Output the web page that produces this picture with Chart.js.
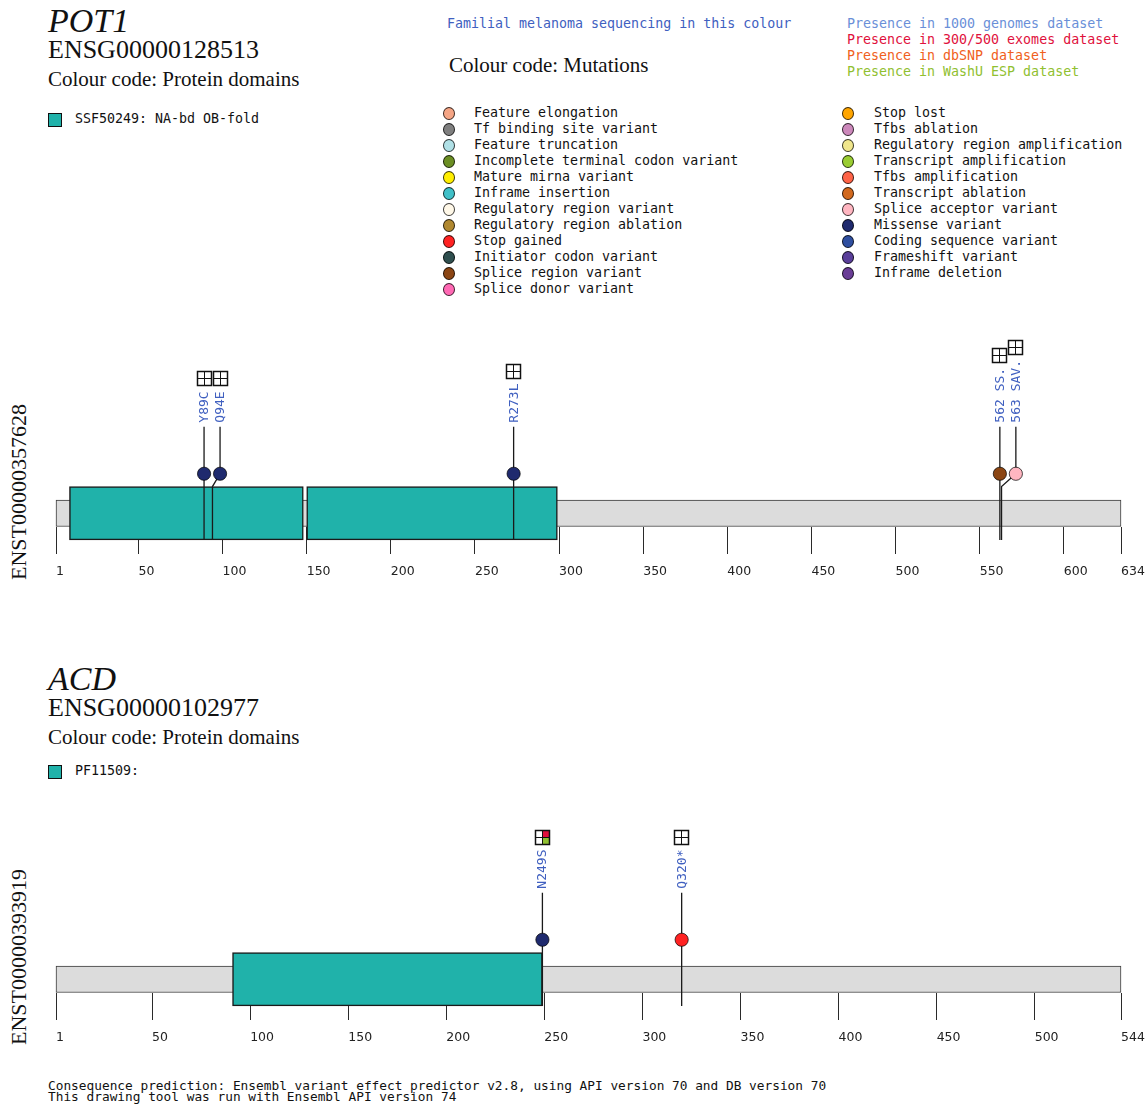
<!DOCTYPE html>
<html>
<head>
<meta charset="utf-8">
<title>POT1 / ACD variants</title>
<script src="https://cdn.jsdelivr.net/npm/chart.js@4.4.1/dist/chart.umd.min.js"></script>
<style>
  body { margin: 0; background: #fff; }
  #page { position: relative; width: 1147px; height: 1117px; overflow: hidden; }
  .abs { position: absolute; white-space: nowrap; }
  .serif { font-family: 'Liberation Serif', 'Times New Roman', serif; color: #111; line-height: 1; }
  .mono { font-family: 'DejaVu Sans Mono', monospace; font-size: 13.3px; line-height: 16px; color: #111; }
  .dot { position: absolute; width: 12px; height: 13px; border-radius: 50%; border: 1px solid rgba(0,0,0,0.75); box-sizing: border-box; }
  .sq { position: absolute; width: 14px; height: 14px; background: #20b2aa; border: 1.5px solid #111; box-sizing: border-box; }
  canvas { position: absolute; left: 0; }
</style>
</head>
<body>
<div id="page"></div>
<script>
// genes
const geneSymbols = ['POT1', 'ACD'];
const geneIds = ['ENSG00000128513', 'ENSG00000102977'];
const transcriptIds = ['ENST00000357628', 'ENST00000393919'];
const proteinLengths = [634, 544];
const domainNames = ['SSF50249: NA-bd OB-fold', 'PF11509:'];

const pot1Domains = [[9, 148], [150, 299]];
const acdDomains = [[91, 249]];

const pot1Ticks = [1, 50, 100, 150, 200, 250, 300, 350, 400, 450, 500, 550, 600, 634];
const acdTicks = [1, 50, 100, 150, 200, 250, 300, 350, 400, 450, 500, 544];

// variants: position, label, consequence, presence [1000G, 300/500 exomes, dbSNP, WashU ESP]
const pot1Positions = [89, 94, 273, 562, 563];
const pot1Labels = ['Y89C', 'Q94E', 'R273L', '562 SS.', '563 SAV.'];
const pot1Consequences = ['Missense variant', 'Missense variant', 'Missense variant', 'Splice region variant', 'Splice acceptor variant'];
const pot1Presence = [[0, 0, 0, 0], [0, 0, 0, 0], [0, 0, 0, 0], [0, 0, 0, 0], [0, 0, 0, 0]];

const acdPositions = [249, 320];
const acdLabels = ['N249S', 'Q320*'];
const acdConsequences = ['Missense variant', 'Stop gained'];
const acdPresence = [[0, 1, 0, 1], [0, 0, 0, 0]];

// colour code: mutations
const consequenceNames = [
  'Feature elongation', 'Tf binding site variant', 'Feature truncation', 'Incomplete terminal codon variant',
  'Mature mirna variant', 'Inframe insertion', 'Regulatory region variant', 'Regulatory region ablation',
  'Stop gained', 'Initiator codon variant', 'Splice region variant', 'Splice donor variant',
  'Stop lost', 'Tfbs ablation', 'Regulatory region amplification', 'Transcript amplification',
  'Tfbs amplification', 'Transcript ablation', 'Splice acceptor variant', 'Missense variant',
  'Coding sequence variant', 'Frameshift variant', 'Inframe deletion'
];
const consequenceColours = [
  '#f5a585', '#7f7f7f', '#b0e0e6', '#6b8e23',
  '#ffee00', '#40c0c8', '#fff8e8', '#b08830',
  '#ff2222', '#2f4f4f', '#8b4513', '#ff69b4',
  '#ffa500', '#cc88bb', '#f0e68c', '#9acd32',
  '#ff6347', '#d2691e', '#ffb6c1', '#1f2a6e',
  '#2f4fa0', '#5a3f9a', '#6a3d96'
];

const datasetNames = ['Presence in 1000 genomes dataset', 'Presence in 300/500 exomes dataset', 'Presence in dbSNP dataset', 'Presence in WashU ESP dataset'];
const datasetColours = ['#6a8fd8', '#e0103c', '#f06020', '#90c030'];

const labelBlue = '#4060c0';
const footerLines = [
  'Consequence prediction: Ensembl variant effect predictor v2.8, using API version 70 and DB version 70',
  'This drawing tool was run with Ensembl API version 74'
];

const page = document.getElementById('page');

function addText(cls, text, left, top, style) {
  const d = document.createElement('div');
  d.className = 'abs ' + cls;
  d.textContent = text;
  d.style.left = left + 'px';
  d.style.top = top + 'px';
  Object.assign(d.style, style || {});
  page.appendChild(d);
  return d;
}

// gene headers
const headerTops = [0, 658];
const legendTops = [0, 652];
geneSymbols.forEach((sym, g) => {
  const t = headerTops[g];
  addText('serif', sym, 48, t + 4, { fontSize: '34px', fontStyle: 'italic' });
  addText('serif', geneIds[g], 48, t + 36.5, { fontSize: '26px' });
  addText('serif', 'Colour code: Protein domains', 48, t + 69, { fontSize: '21px' });
  const sq = document.createElement('div');
  sq.className = 'sq';
  sq.style.left = '48px';
  sq.style.top = (legendTops[g] + 113) + 'px';
  page.appendChild(sq);
  addText('mono', domainNames[g], 75, legendTops[g] + 111);
});

// mutation colour code
addText('mono', 'Familial melanoma sequencing in this colour', 447, 16, { color: labelBlue });
addText('serif', 'Colour code: Mutations', 449, 54.5, { fontSize: '21px' });
datasetNames.forEach((n, i) => addText('mono', n, 847, 16 + 16 * i, { color: datasetColours[i] }));
consequenceNames.forEach((n, i) => {
  const col = i < 12 ? 0 : 1;
  const row = i % 12;
  const cx = col ? 848 : 449;
  const cy = 113 + 16 * row;
  const d = document.createElement('div');
  d.className = 'dot';
  d.style.left = (cx - 6) + 'px';
  d.style.top = (cy - 6.5) + 'px';
  d.style.background = consequenceColours[i];
  page.appendChild(d);
  addText('mono', n, col ? 874 : 474, cy - 8);
});

// footer
footerLines.forEach((l, i) => addText('mono', l, 48, 1080 + 11 * i, { fontSize: '12.8px', lineHeight: '11px' }));

// transcript labels (rotated)
const transcriptCentres = [491.5, 957];
transcriptIds.forEach((id, g) => {
  addText('serif', id, 19, transcriptCentres[g], { fontSize: '22px', transform: 'translate(-50%,-50%) rotate(-90deg)' });
});

// track geometry in y-scale units (1 unit = 1 px), 0 = protein centre line
const BAR_HALF = 13.25;
const DOMAIN_HALF = 26.7;
const MARKER_Y = 39.5;
const STEM_TOP = 86.6;
const MIN_GAP = 16;

function colourOf(cons) {
  return consequenceColours[consequenceNames.indexOf(cons)];
}

function drawIcon(ctx, left, top, size, presence) {
  const h = size / 2;
  presence.forEach((p, k) => {
    if (!p) return;
    ctx.fillStyle = datasetColours[k];
    ctx.fillRect(left + (k % 2) * h, top + Math.floor(k / 2) * h, h, h);
  });
  ctx.strokeStyle = '#111';
  ctx.lineWidth = 1.5;
  ctx.strokeRect(left, top, size, size);
  ctx.lineWidth = 1;
  ctx.beginPath();
  ctx.moveTo(left + h, top); ctx.lineTo(left + h, top + size);
  ctx.moveTo(left, top + h); ctx.lineTo(left + size, top + h);
  ctx.stroke();
}

const lollipops = {
  id: 'lollipops',
  afterDatasetsDraw(chart, args, opts) {
    const { ctx, scales: { x, y } } = chart;
    const v = opts.variants;
    let prev = -Infinity;
    v.positions.forEach((pos, i) => {
      const px = x.getPixelForValue(pos);
      const mx = Math.max(px, prev + MIN_GAP);
      prev = mx;
      const yBottom = y.getPixelForValue(-DOMAIN_HALF);
      const yKnee = y.getPixelForValue(DOMAIN_HALF);
      const yMarker = y.getPixelForValue(MARKER_Y);
      const yTop = y.getPixelForValue(STEM_TOP);

      ctx.save();
      ctx.strokeStyle = '#1a1a1a';
      ctx.lineWidth = 1.3;
      ctx.beginPath();
      ctx.moveTo(px, yBottom);
      if (mx !== px) {
        ctx.lineTo(px, yKnee);
        ctx.lineTo(mx, yMarker);
      } else {
        ctx.lineTo(px, yMarker);
      }
      ctx.moveTo(mx, yMarker);
      ctx.lineTo(mx, yTop);
      ctx.stroke();

      ctx.beginPath();
      ctx.arc(mx, yMarker, 6.6, 0, Math.PI * 2);
      ctx.fillStyle = colourOf(v.consequences[i]);
      ctx.fill();
      ctx.strokeStyle = 'rgba(0,0,0,0.7)';
      ctx.lineWidth = 1;
      ctx.stroke();

      ctx.font = '13px "DejaVu Sans Mono"';
      const w = ctx.measureText(v.labels[i]).width;
      const ty = yTop - 4;
      ctx.save();
      ctx.translate(mx, ty);
      ctx.rotate(-Math.PI / 2);
      ctx.textAlign = 'left';
      ctx.textBaseline = 'middle';
      ctx.fillStyle = labelBlue;
      ctx.fillText(v.labels[i], 0, 0.5);
      ctx.restore();

      drawIcon(ctx, Math.round(mx - 7.5) + 0.5, Math.round(ty - w - 6 - 14) + 0.5, 14, v.presence[i]);
      ctx.restore();
    });
  }
};

function makeTrack(top, length, domains, ticks, variants) {
  const canvas = document.createElement('canvas');
  canvas.width = 1147;
  canvas.height = 270;
  canvas.style.top = top + 'px';
  page.appendChild(canvas);

  new Chart(canvas, {
    type: 'bar',
    data: {
      datasets: [
        {
          label: 'protein',
          data: [{ x: [1, length], y: 0 }],
          backgroundColor: '#dcdcdc',
          borderColor: '#3a3a3a',
          borderWidth: 1,
          barThickness: BAR_HALF * 2,
          borderSkipped: false,
          grouped: false,
          clip: false,
          order: 1
        },
        {
          label: 'domains',
          data: domains.map(d => ({ x: d, y: 0 })),
          backgroundColor: '#20b2aa',
          borderColor: '#1a1a1a',
          borderWidth: 1.5,
          barThickness: DOMAIN_HALF * 2,
          borderSkipped: false,
          grouped: false,
          clip: false,
          order: 0
        }
      ]
    },
    options: {
      indexAxis: 'y',
      responsive: false,
      animation: false,
      events: [],
      layout: { padding: { left: 56, right: 26, top: 0, bottom: 0 } },
      plugins: {
        legend: { display: false },
        tooltip: { enabled: false },
        lollipops: { variants }
      },
      scales: {
        x: {
          type: 'linear',
          min: 1,
          max: length,
          afterBuildTicks: s => { s.ticks = ticks.map(t => ({ value: t })); },
          afterFit: s => {
            s.height = 73.5;
            // let the last label overhang into the right margin
            s.paddingLeft = 0;
            s.paddingRight = 0;
          },
          ticks: {
            align: 'start',
            autoSkip: false,
            maxRotation: 0,
            padding: 10,
            color: '#222',
            font: { family: 'DejaVu Sans', size: 12.5 },
            callback: val => String(val)
          },
          grid: { drawOnChartArea: false, drawTicks: true, tickLength: 27.5, color: '#2a2a2a', lineWidth: 1 },
          border: { display: false }
        },
        y: {
          type: 'linear',
          display: false,
          offset: false,
          min: -BAR_HALF,
          max: 196.5 - BAR_HALF
        }
      }
    },
    plugins: [lollipops]
  });
}

makeTrack(330, proteinLengths[0], pot1Domains, pot1Ticks,
  { positions: pot1Positions, labels: pot1Labels, consequences: pot1Consequences, presence: pot1Presence });
makeTrack(796, proteinLengths[1], acdDomains, acdTicks,
  { positions: acdPositions, labels: acdLabels, consequences: acdConsequences, presence: acdPresence });
</script>
</body>
</html>
